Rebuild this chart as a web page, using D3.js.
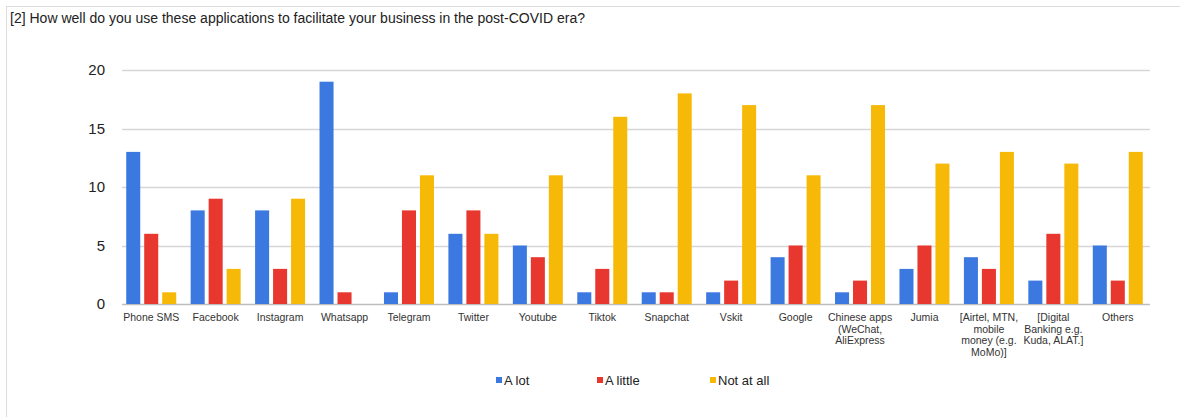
<!DOCTYPE html>
<html>
<head>
<meta charset="utf-8">
<script src="https://cdn.jsdelivr.net/npm/d3@7"></script>
<style>
  html, body { margin: 0; padding: 0; background: #fff; }
  svg { display: block; font-family: "Liberation Sans", Arial, sans-serif; }
</style>
</head>
<body>
<svg id="chart" width="1180" height="417"></svg>
<script>
const title = "[2] How well do you use these applications to facilitate your business in the post-COVID era?";
const categories = [
  ["Phone SMS"], ["Facebook"], ["Instagram"], ["Whatsapp"], ["Telegram"], ["Twitter"],
  ["Youtube"], ["Tiktok"], ["Snapchat"], ["Vskit"], ["Google"],
  ["Chinese apps", "(WeChat,", "AliExpress"], ["Jumia"],
  ["[Airtel, MTN,", "mobile", "money (e.g.", "MoMo)]"],
  ["[Digital", "Banking e.g.", "Kuda, ALAT.]"], ["Others"]
];
const seriesNames = ["A lot", "A little", "Not at all"];
const aLot     = [13, 8, 8, 19, 1, 6, 5, 1, 1, 1, 4, 1, 3, 4, 2, 5];
const aLittle  = [6, 9, 3, 1, 8, 8, 4, 3, 1, 2, 5, 2, 5, 3, 6, 2];
const notAtAll = [1, 3, 9, 0, 11, 6, 11, 16, 18, 17, 11, 17, 12, 13, 12, 13];
const yTicks = [0, 5, 10, 15, 20];
const colors = ["#3b78e0", "#e8372f", "#f7b908"];

const series = [aLot, aLittle, notAtAll];
const svg = d3.select("#chart");

// frame lines
svg.append("line").attr("x1", 6).attr("x2", 1180).attr("y1", 6.5).attr("y2", 6.5).attr("stroke", "#dcdcdc");
svg.append("line").attr("x1", 6.5).attr("x2", 6.5).attr("y1", 6).attr("y2", 417).attr("stroke", "#dcdcdc");

svg.append("text").attr("x", 10).attr("y", 23).attr("font-size", 14).attr("fill", "#222")
  .attr("textLength", 575).attr("lengthAdjust", "spacingAndGlyphs").text(title);

const x0 = d3.scaleBand().domain(d3.range(categories.length)).range([119, 1150]).paddingInner(0).paddingOuter(0);
const x1 = d3.scaleBand().domain(d3.range(3)).range([0, 50]).paddingInner(0.22);
const y = d3.scaleLinear().domain([0, 20]).range([304, 70]);

// gridlines
svg.append("g").selectAll("line").data(yTicks).join("line")
  .attr("x1", 122).attr("x2", 1150)
  .attr("y1", d => Math.round(y(d)) + 0.5).attr("y2", d => Math.round(y(d)) + 0.5)
  .attr("stroke", d => d === 0 ? "#bdbdbd" : "#d6d6d6").attr("stroke-width", 1.3);

// y tick labels
svg.append("g").selectAll("text").data(yTicks).join("text")
  .attr("x", 105).attr("y", d => y(d) + 5).attr("text-anchor", "end")
  .attr("font-size", 15).attr("fill", "#222").text(d => d);

// bars
const groups = svg.append("g").selectAll("g").data(categories).join("g")
  .attr("transform", (d, i) => `translate(${x0(i) + (x0.bandwidth() - 50) / 2},0)`);
groups.selectAll("rect").data((d, i) => series.map((s, k) => ({ k, v: s[i] }))).join("rect")
  .attr("x", d => x1(d.k)).attr("width", x1.bandwidth())
  .attr("y", d => y(d.v)).attr("height", d => y(0) - y(d.v))
  .attr("fill", d => colors[d.k]);

// category labels
const lab = svg.append("g").selectAll("text").data(categories).join("text")
  .attr("text-anchor", "middle").attr("font-size", 10.5).attr("fill", "#333")
  .attr("transform", (d, i) => `translate(${x0(i) + x0.bandwidth() / 2},321)`);
lab.selectAll("tspan").data(d => d).join("tspan")
  .attr("x", 0).attr("dy", (d, j) => j === 0 ? 0 : 11.5).text(d => d);

// legend
const legendX = [496, 597, 710];
const lg = svg.append("g").selectAll("g").data(seriesNames).join("g")
  .attr("transform", (d, i) => `translate(${legendX[i]},377)`);
lg.append("rect").attr("width", 6).attr("height", 6).attr("fill", (d, i) => colors[i]);
lg.append("text").attr("x", 8).attr("y", 7.5).attr("font-size", 13).attr("fill", "#222").text(d => d);
</script>
</body>
</html>
